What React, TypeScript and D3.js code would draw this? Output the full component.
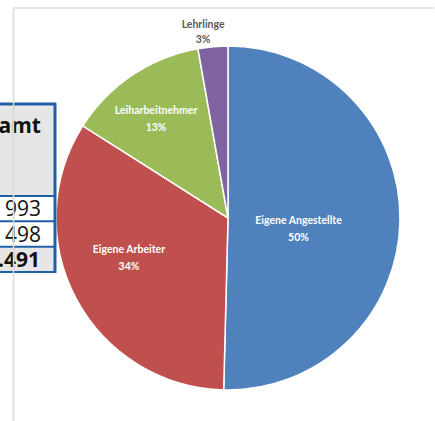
import React from 'react';
import * as d3 from 'd3';

const categories = ['Eigene Angestellte', 'Eigene Arbeiter', 'Leiharbeitnehmer', 'Lehrlinge'];
const shares = [50.4, 33.6, 13.2, 2.8];
const colors = ['#4f81bd', '#c0504d', '#9bbb59', '#8064a2'];

const tableHeader = 'Gesamt';
const tableRows = ['993', '498'];
const tableTotal = '1.491';

const W = 435;
const H = 421;

export default function App() {
  const cx = 228;
  const cy = 218;
  const R = 172;

  const pie = d3.pie<number>().sort(null).value(d => d);
  const arcs = pie(shares);
  const arc = d3.arc<d3.PieArcDatum<number>>().innerRadius(0).outerRadius(R);

  // label distance from centre (share of radius) and small nudges, Excel "best fit"
  const labelR = [0.41, 0.6, 0.72, 1.12];
  const nudge = [[0, 2], [-8, -17], [-3, -4], [-8, -1]];

  const rowY = d3.scaleLinear().domain([0, 3]).range([196, 272]);

  return (
    <svg width={W} height={H} style={{ position: 'absolute', left: 0, top: 0, background: '#fff' }}
      fontFamily="Lato, 'Open Sans', sans-serif">
      {/* chart area frame */}
      <line x1={13} y1={8} x2={434} y2={8} stroke="#d9d9d9" strokeWidth={1.5} />

      <g transform={`translate(${cx},${cy})`}>
        {arcs.map((a, i) => (
          <path key={i} d={arc(a) || ''} fill={colors[i]} stroke="#fff" strokeWidth={1.5} />
        ))}
        {arcs.map((a, i) => {
          const mid = (a.startAngle + a.endAngle) / 2;
          const r = R * labelR[i];
          const x = Math.sin(mid) * r + nudge[i][0];
          const y = -Math.cos(mid) * r + nudge[i][1];
          const outside = labelR[i] > 1;
          return (
            <text key={i} x={x} y={y} textAnchor="middle" fontSize={10.5} fontWeight="bold"
              fill={outside ? '#595959' : '#fff'}>
              <tspan x={x} dy={3}>{categories[i]}</tspan>
              <tspan x={x} dy={outside ? 15 : 17}>{`${Math.round(shares[i])}%`}</tspan>
            </text>
          );
        })}
      </g>

      {/* cropped table on the left */}
      <g fontFamily="'Open Sans', 'Noto Sans', sans-serif">
        <rect x={-10} y={104} width={65} height={rowY(0) - 104} fill="#e7e6e6" />
        <text x={41} y={133} textAnchor="end" fontSize={21} fontWeight="bold" fill="#111">{tableHeader}</text>
        {tableRows.map((t, i) => (
          <text key={i} x={41} y={(rowY(i) + rowY(i + 1)) / 2 + 7.5} textAnchor="end" fontSize={21} fill="#111">{t}</text>
        ))}
        <rect x={-10} y={rowY(2)} width={65} height={rowY(3) - rowY(2)} fill="#e7e6e6" />
        <text x={40} y={(rowY(2) + rowY(3)) / 2 + 7.5} textAnchor="end" fontSize={21} fontWeight="bold" fill="#111">{tableTotal}</text>
        {d3.range(4).map(i => (
          <line key={i} x1={-10} x2={56} y1={rowY(i)} y2={rowY(i)} stroke="#1f5fa8" strokeWidth={2} />
        ))}
        <line x1={-10} x2={56} y1={104} y2={104} stroke="#1f5fa8" strokeWidth={3} />
        <line x1={55} x2={55} y1={103} y2={rowY(3) + 1} stroke="#1f5fa8" strokeWidth={3} />
      </g>

      <line x1={13.5} y1={8} x2={13.5} y2={H} stroke="#d9d9d9" strokeWidth={1.5} />
    </svg>
  );
}
